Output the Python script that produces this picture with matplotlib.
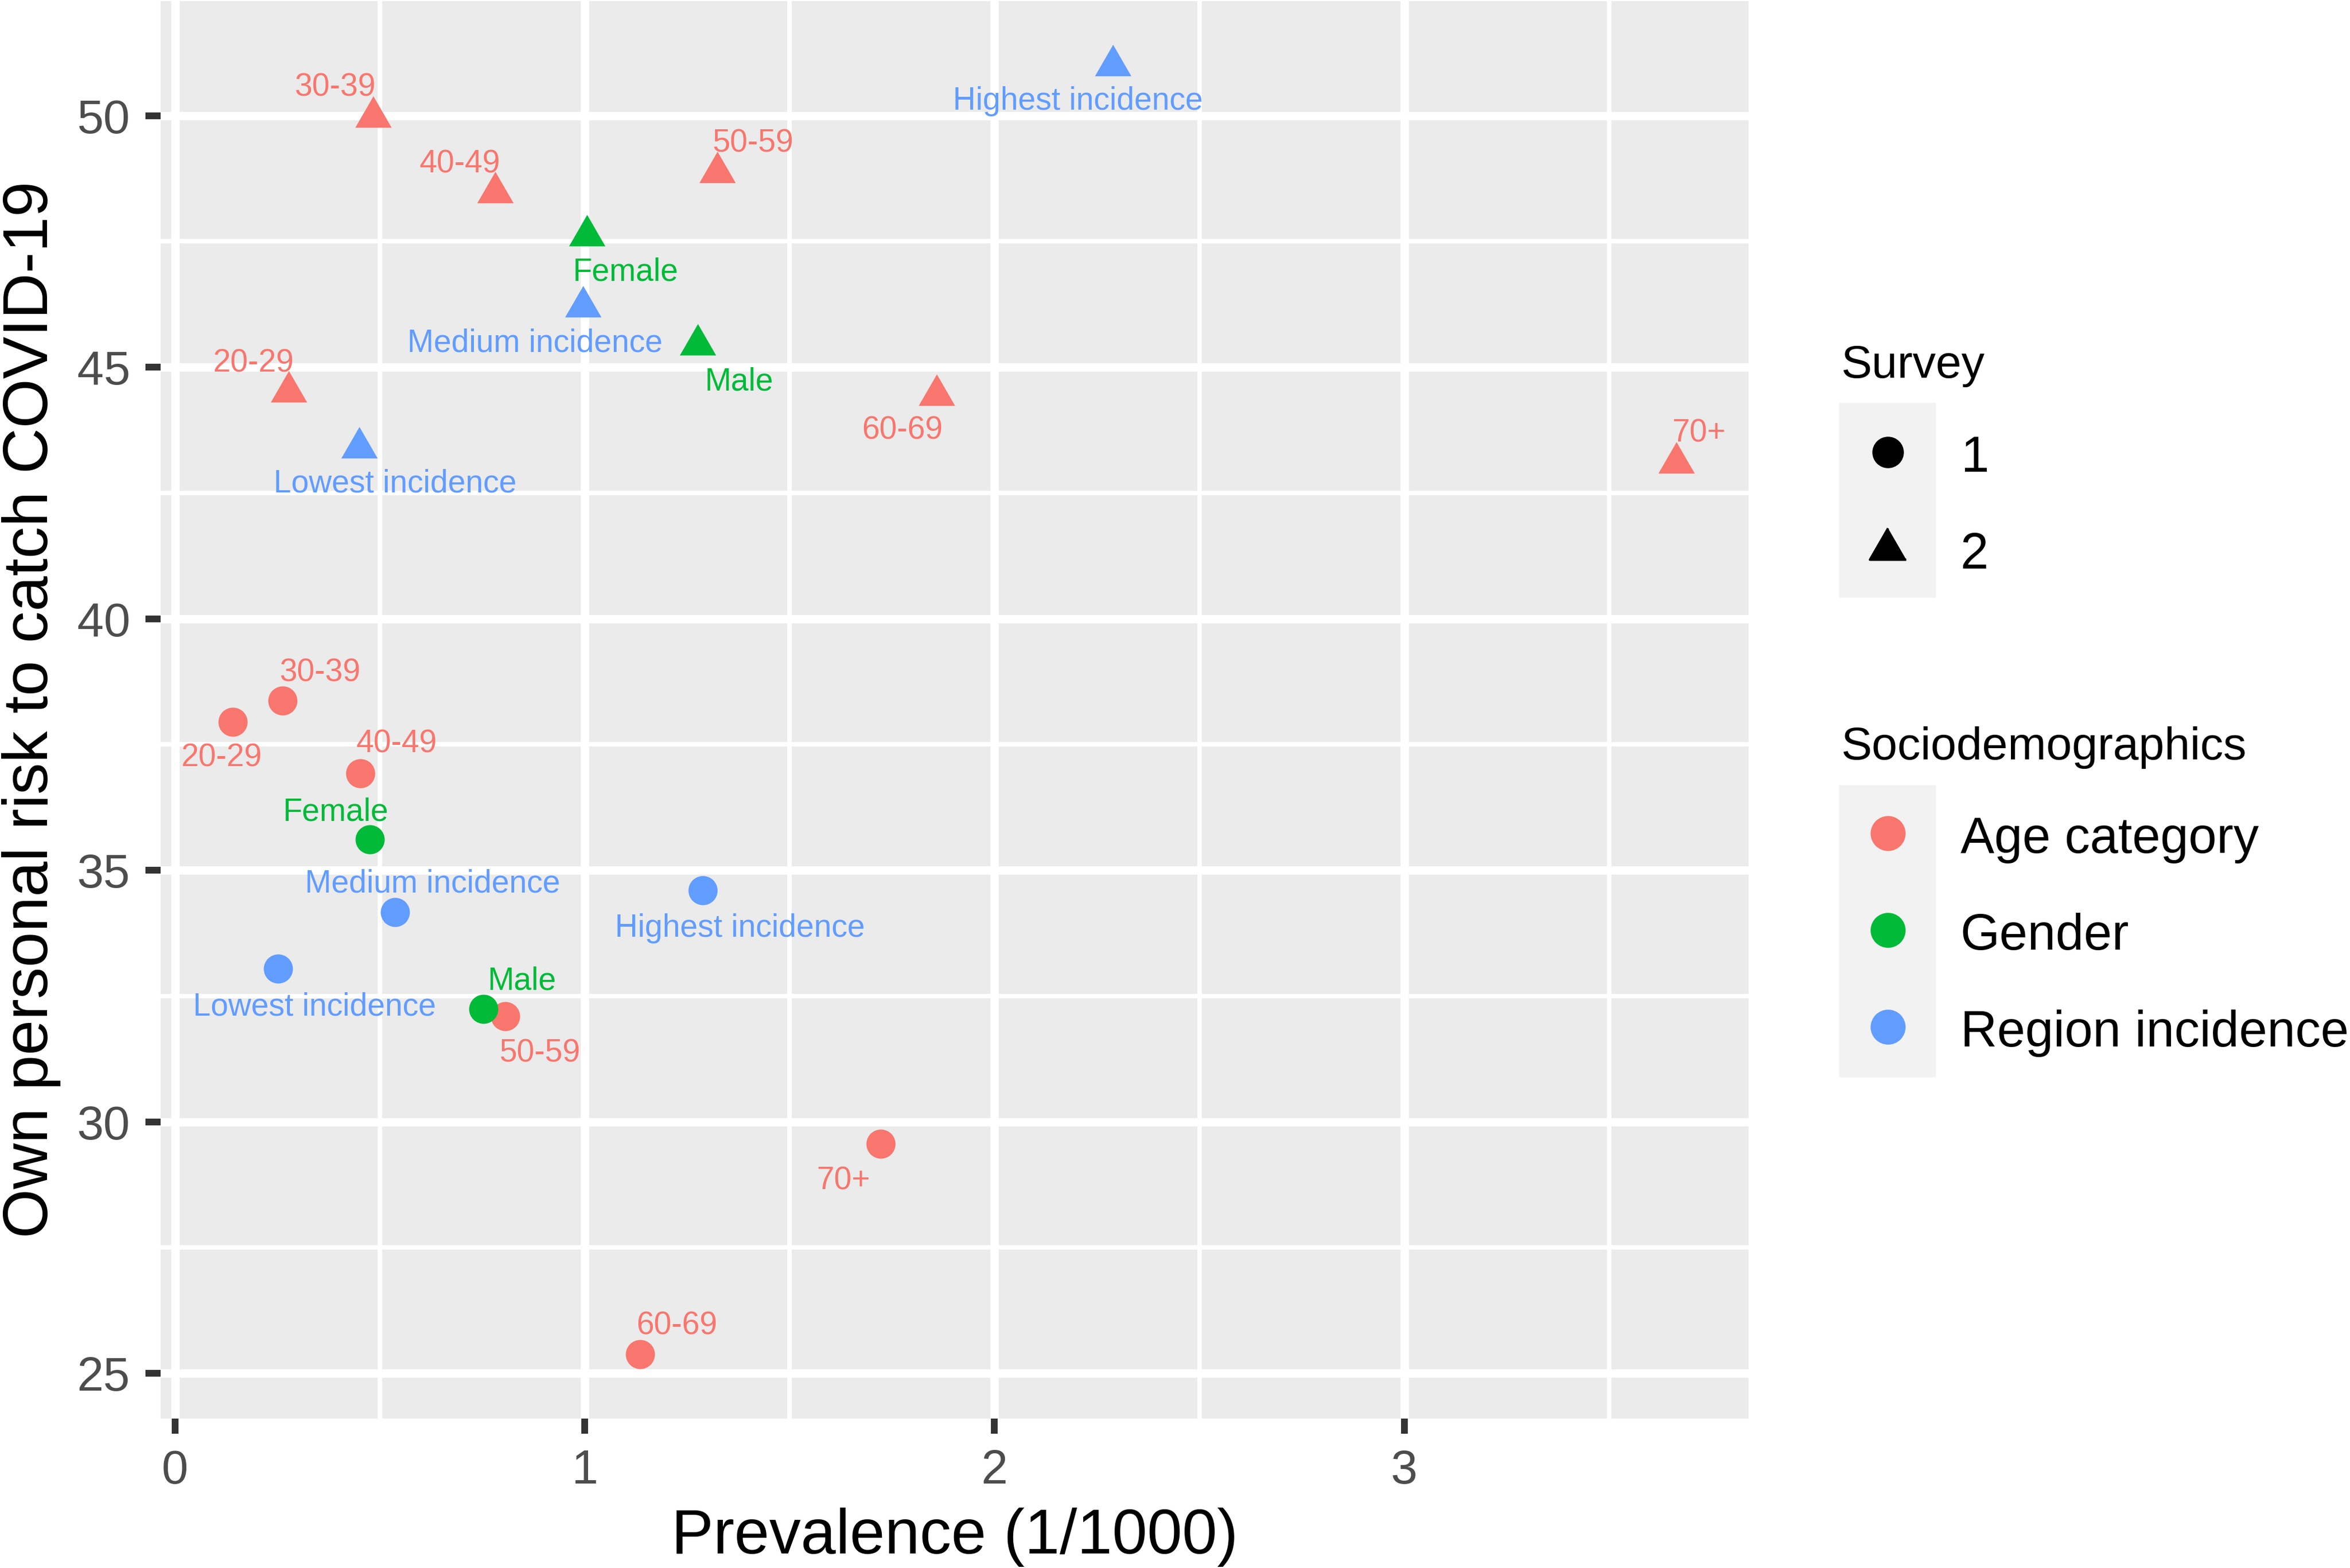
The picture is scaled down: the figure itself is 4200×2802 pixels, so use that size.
import numpy as np
import matplotlib
matplotlib.use("Agg")
from matplotlib import pyplot as plt
from matplotlib.ticker import MultipleLocator
from matplotlib.patches import Rectangle

plt.rcParams['font.family'] = ['Liberation Sans', 'DejaVu Sans']

# data
labels = ['20-29', '30-39', '40-49', '50-59', '60-69', '70+',
          'Female', 'Male',
          'Lowest incidence', 'Medium incidence', 'Highest incidence']
groups = ['Age category'] * 6 + ['Gender'] * 2 + ['Region incidence'] * 3

# survey 1
prev1 = [0.141, 0.263, 0.452, 0.806, 1.135, 1.722, 0.476, 0.753, 0.251, 0.537, 1.288]
risk1 = [37.95, 38.37, 36.93, 32.10, 25.38, 29.56, 35.61, 32.24, 33.04, 34.17, 34.60]
# survey 2
prev2 = [0.277, 0.484, 0.781, 1.323, 1.859, 3.664, 1.005, 1.276, 0.450, 0.996, 2.289]
risk2 = [44.51, 49.97, 48.47, 48.87, 44.45, 43.10, 47.62, 45.45, 43.40, 46.20, 51.00]

group_names = ['Age category', 'Gender', 'Region incidence']
group_colors = {'Age category': '#F8766D', 'Gender': '#00BA38', 'Region incidence': '#619CFF'}

# where each label sits relative to its point (pixels, +y = down), like ggrepel did
nudge1 = [(-20, 59), (67, -56), (65, -58), (62, 61), (66, -56), (-67, 60),
          (-62, -55), (69, -56), (66, 62), (67, -56), (66, 62)]
nudge2 = [(-63, -57), (-68, -59), (-63, -57), (65, -58), (-62, 58), (40, -58),
          (69, 60), (74, 61), (64, 58), (-86, 59), (-63, 58)]

W, H = 4200, 2802
fig = plt.figure(figsize=(14, 9.34), dpi=300)
PX = 72 / 300  # points per pixel

# equilateral triangle centred on its centroid (R shape 17)
tri = [(0, 1), (-0.866, -0.5), (0.866, -0.5)]

ax = fig.add_axes([287 / W, 1 - 2535 / H, (3125 - 287) / W, (2535 - 1.7) / H])
ax.set_facecolor('#EBEBEB')
for s in ax.spines.values():
    s.set_visible(False)

for g in group_names:
    idx = [i for i, gg in enumerate(groups) if gg == g]
    ax.scatter([prev1[i] for i in idx], [risk1[i] for i in idx], s=12.5 ** 2,
               marker='o', color=group_colors[g], linewidths=0, zorder=3)
for g in group_names:
    idx = [i for i, gg in enumerate(groups) if gg == g]
    ax.scatter([prev2[i] for i in idx], [risk2[i] for i in idx], s=18 ** 2,
               marker=tri, color=group_colors[g], linewidths=0, zorder=3)

ax.margins(0.05)

for xs, ys, nudges in [(prev1, risk1, nudge1), (prev2, risk2, nudge2)]:
    for lab, g, x, y, (dx, dy) in zip(labels, groups, xs, ys, nudges):
        ax.annotate(lab, (x, y), xytext=(dx * PX, -dy * PX), textcoords='offset points',
                    ha='center', va='center_baseline', fontsize=13.6,
                    color=group_colors[g], zorder=4)

ax.xaxis.set_major_locator(MultipleLocator(1))
ax.xaxis.set_minor_locator(MultipleLocator(0.5))
ax.yaxis.set_major_locator(MultipleLocator(5))
ax.yaxis.set_minor_locator(MultipleLocator(2.5))
ax.grid(which='major', color='white', linewidth=3.6, zorder=0)
ax.grid(which='minor', color='white', linewidth=1.9, zorder=0)
ax.set_axisbelow(True)
ax.tick_params(which='major', length=6.5, width=2.9, color='#333333',
               labelsize=20.5, labelcolor='#4D4D4D', pad=6.5)
ax.tick_params(which='minor', length=0)

fig.text(1706 / W, 1 - 2734.5 / H, 'Prevalence (1/1000)', fontsize=27,
         ha='center', va='center_baseline')
fig.text(44 / W, 1 - 1268 / H, 'Own personal risk to catch COVID-19', fontsize=27.2,
         rotation=90, rotation_mode='anchor', ha='center', va='center_baseline')

# legends, drawn in pixel coordinates of the figure
lax = fig.add_axes([0, 0, 1, 1], facecolor='none')
lax.set_xlim(0, W)
lax.set_ylim(H, 0)
lax.axis('off')

lax.text(3290, 645, 'Survey', fontsize=19.8, ha='left', va='center_baseline')
lax.add_patch(Rectangle((3287, 720), 173, 348, color='#F2F2F2', lw=0))
lax.plot([3374], [808], marker='o', ms=12.5, color='black', ls='none')
lax.plot([3374], [981], marker=tri, ms=18, color='black', ls='none')
for txt, yy in [('1', 810), ('2', 983)]:
    lax.text(3504, yy, txt, fontsize=21.7, ha='left', va='center_baseline')

lax.text(3290, 1328, 'Sociodemographics', fontsize=19.8, ha='left', va='center_baseline')
lax.add_patch(Rectangle((3287, 1403), 173, 522, color='#F2F2F2', lw=0))
for g, yy in zip(group_names, [1489, 1662, 1835]):
    lax.plot([3374], [yy], marker='o', ms=14, color=group_colors[g], ls='none')
    lax.text(3504, yy + 2, g, fontsize=21.7, ha='left', va='center_baseline')

fig.savefig('out.png', dpi=300, facecolor='white')
